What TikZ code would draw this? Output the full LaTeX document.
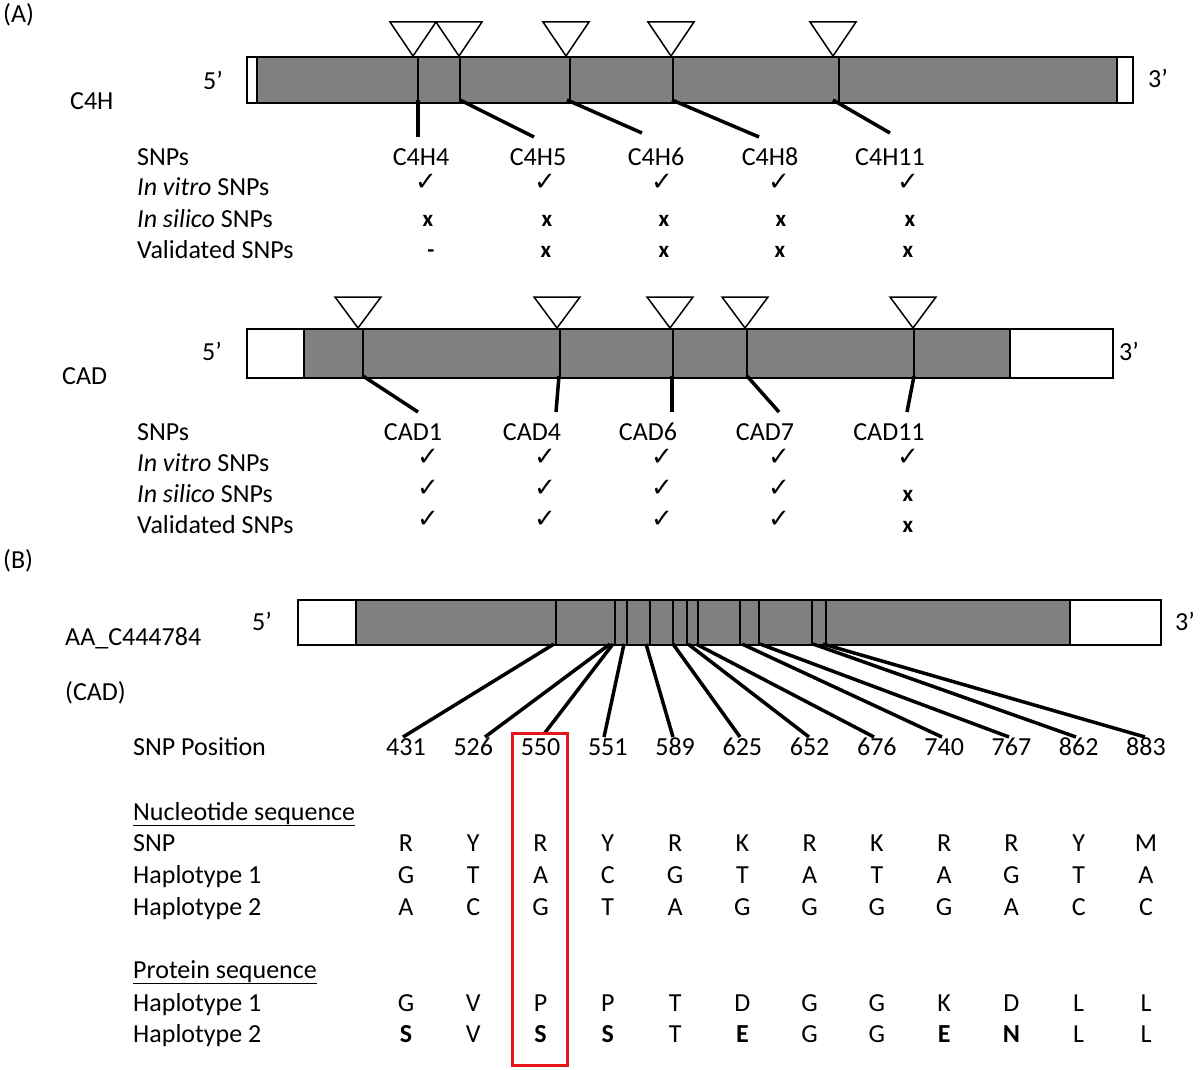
\documentclass[tikz,border=0pt]{standalone}
\usepackage{fontspec}
\setmainfont{Carlito}
\newfontfamily\symfont{DejaVu Sans}
\definecolor{boxred}{RGB}{228,22,28}
\definecolor{exongray}{RGB}{128,128,128}
\begin{document}
\begin{tikzpicture}[x=1pt,y=-1pt,
  txt/.style={font=\fontsize{26}{30}\selectfont, inner sep=0pt, anchor=base west},
  ctr/.style={font=\fontsize{26}{30}\selectfont, inner sep=0pt, anchor=base},
  utr/.style={draw=black, line width=2.5pt, fill=white},
  exon/.style={draw=black, line width=2.5pt, fill=exongray},
  snpline/.style={line width=2pt},
  conn/.style={line width=3.5pt},
  tri/.style={draw=black, line width=1.5pt, fill=white},
  chk/.style={font=\symfont\fontsize{26}{28}\selectfont, inner sep=0pt, anchor=base},
  crs/.style={font=\bfseries\fontsize{23}{26}\selectfont, inner sep=0pt, anchor=base},
]
\useasboundingbox (0,0) rectangle (1200,1070);

% ---------------- (A) C4H ----------------
\node[txt] (labA) at (3,23) {(A)};
\draw[utr] (247,57) rectangle (1133,103);
\draw[exon] (257,57) rectangle (1117,103);
\foreach \x in {418,460,570,673,839} \draw[snpline] (\x,57) -- (\x,103);
\foreach \a in {413,459,566,671,833} \draw[tri] (\a-23,22) -- (\a+23,22) -- (\a,56) -- cycle;
\node[ctr] (c4h5p) at (213,90) {5’};
\node[ctr] (c4h3p) at (1158,88) {3’};
\node[txt] (c4hname) at (70,110) {C4H};

\foreach \n/\sx/\ex/\ey in {a/418/418/137, b/460/534/137, c/567/642/133, d/672/759/137, e/833/890/133} {
  \coordinate (c4hs\n) at (\sx,100);
  \coordinate (c4he\n) at (\ex,\ey);
  \draw[conn] (c4hs\n) -- (c4he\n);
}

\node[txt] (c4hr1) at (137,165) {SNPs};
\node[txt] (c4hr2) at (137,196) {\textit{In vitro} SNPs};
\node[txt] (c4hr3) at (137,227) {\textit{In silico} SNPs};
\node[txt] (c4hr4) at (137,258) {Validated SNPs};
\foreach \x/\t in {421/C4H4, 538/C4H5, 656/C4H6, 770/C4H8, 890/C4H11}
  \node[ctr] (lab\t) at (\x,165) {\t};
\foreach \x [count=\i] in {426,545,662,779,908} {
  \node[chk] (c4hv\i) at (\x,190) {✓};
  \node[crs] (c4hs\i) at (\x+2,226) {x};
}
\node[crs] (c4hval1) at (431,257) {-};
\foreach \x [count=\i from 2] in {546,664,780,908}
  \node[crs] (c4hval\i) at (\x,257) {x};

% ---------------- (A) CAD ----------------
\draw[utr] (247,329) rectangle (1113,378);
\draw[exon] (304,329) rectangle (1010,378);
\foreach \x in {363,560,673,747,914} \draw[snpline] (\x,329) -- (\x,378);
\foreach \a in {358,557,670,745,913} \draw[tri] (\a-23,297) -- (\a+23,297) -- (\a,328) -- cycle;
\node[ctr] (cad5p) at (212,360) {5’};
\node[ctr] (cad3p) at (1129,360) {3’};
\node[txt] (cadname) at (62,384) {CAD};

\foreach \n/\sx/\ex in {a/363/418, b/559/556, c/672/672, d/747/779, e/914/907} {
  \coordinate (cads\n) at (\sx,376);
  \coordinate (cade\n) at (\ex,412);
  \draw[conn] (cads\n) -- (cade\n);
}

\node[txt] (cadr1) at (137,440) {SNPs};
\node[txt] (cadr2) at (137,471) {\textit{In vitro} SNPs};
\node[txt] (cadr3) at (137,502) {\textit{In silico} SNPs};
\node[txt] (cadr4) at (137,533) {Validated SNPs};
\foreach \x/\t in {413/CAD1, 532/CAD4, 648/CAD6, 765/CAD7, 889/CAD11}
  \node[ctr] (lab\t) at (\x,440) {\t};
\foreach \x [count=\i] in {428,545,662,779,908}
  \node[chk] (cadv\i) at (\x,465) {✓};
\foreach \x [count=\i] in {428,545,662,779} {
  \node[chk] (cadsi\i) at (\x,496) {✓};
  \node[chk] (cadva\i) at (\x,527) {✓};
}
\node[crs] (cadsi5) at (908,501) {x};
\node[crs] (cadva5) at (908,532) {x};

% ---------------- (B) ----------------
\node[txt] (labB) at (3,568) {(B)};
\draw[utr] (298,600) rectangle (1161,645);
\draw[exon] (356,600) rectangle (1070,645);
\foreach \x in {556,615,627,650,673,687,698,740,759,812,826} \draw[snpline] (\x,600) -- (\x,645);
\node[ctr] (b5p) at (262,630) {5’};
\node[ctr] (b3p) at (1185,630) {3’};
\node[txt] (bname) at (65,645) {AA\_C444784};
\node[txt] (bname2) at (65,700) {(CAD)};

\foreach \n/\sx/\ex/\ey in {a/554/403/737, b/610/485/737, c/613/544/734, d/624/604/737, e/646/673/737, f/673/740/737, g/688/809/737, h/696/874/737, i/742/942/737, j/760/1009/737, k/813/1076/737, l/823/1145/737} {
  \coordinate (bs\n) at (\sx,644);
  \coordinate (be\n) at (\ex,\ey);
  \draw[conn] (bs\n) -- (be\n);
}

\node[txt] (rpos) at (133,755) {SNP Position};
\node[txt] (rnuc) at (133,820) {\underline{Nucleotide sequence}};
\node[txt] (rsnp) at (133,851) {SNP};
\node[txt] (rh1) at (133,883) {Haplotype 1};
\node[txt] (rh2) at (133,915) {Haplotype 2};
\node[txt] (rprot) at (133,978) {\underline{Protein sequence}};
\node[txt] (rp1) at (133,1011) {Haplotype 1};
\node[txt] (rp2) at (133,1042) {Haplotype 2};

\foreach \p/\s/\ha/\hb/\pa/\pb [count=\i from 0] in {
  431/R/G/A/G/\textbf{S},
  526/Y/T/C/V/V,
  550/R/A/G/P/\textbf{S},
  551/Y/C/T/P/\textbf{S},
  589/R/G/A/T/T,
  625/K/T/G/D/\textbf{E},
  652/R/A/G/G/G,
  676/K/T/G/G/G,
  740/R/A/G/K/\textbf{E},
  767/R/G/A/D/\textbf{N},
  862/Y/T/C/L/L,
  883/M/A/C/L/L} {
  \pgfmathsetmacro{\cx}{406+67.27*\i}
  \node[ctr] (pos\i) at (\cx,755) {\p};
  \node[ctr] (snp\i) at (\cx,851) {\s};
  \node[ctr] (nha\i) at (\cx,883) {\ha};
  \node[ctr] (nhb\i) at (\cx,915) {\hb};
  \node[ctr] (pha\i) at (\cx,1011) {\pa};
  \node[ctr] (phb\i) at (\cx,1042) {\pb};
}

\draw[boxred, line width=3pt] (512,733) rectangle (567,1065);
\end{tikzpicture}
\end{document}
